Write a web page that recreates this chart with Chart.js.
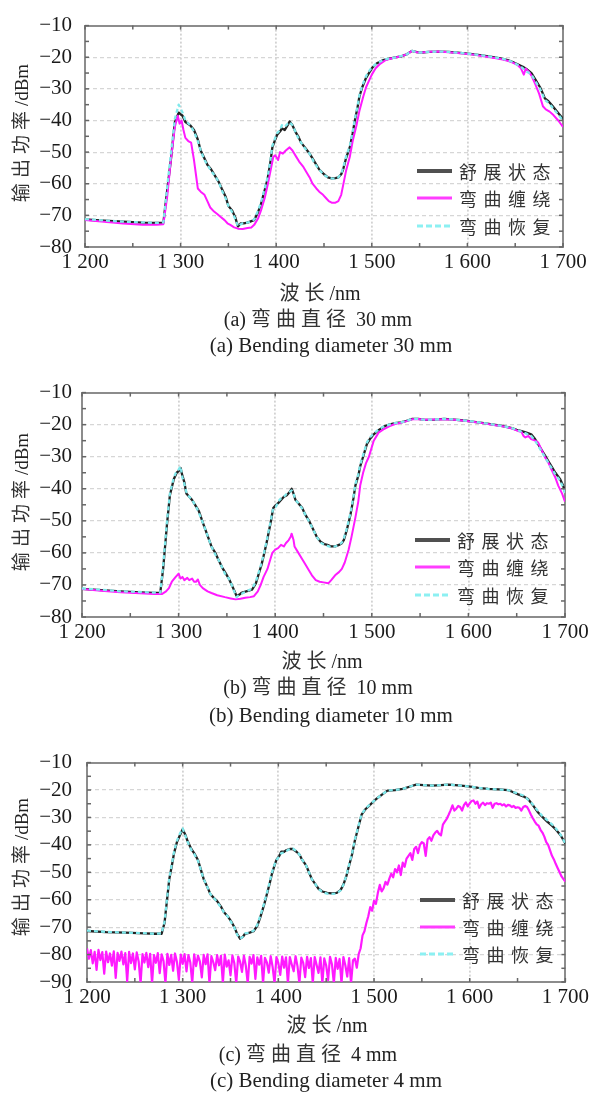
<!DOCTYPE html>
<html><head><meta charset="utf-8">
<script src="https://cdn.jsdelivr.net/npm/chart.js@4"></script>
<style>
html,body{margin:0;padding:0;background:#fff;}
body{width:592px;height:1093px;position:relative;overflow:hidden;font-family:"Liberation Serif","Noto Sans CJK SC",serif;color:#222;}
canvas.p{position:absolute;left:0;}
.t{position:absolute;white-space:nowrap;transform:translate(-50%,-50%);line-height:1;}
.l{position:absolute;white-space:nowrap;transform:translate(0,-50%);line-height:1;}
.yl{position:absolute;white-space:nowrap;transform:translate(-50%,-50%) rotate(-90deg);line-height:1;font-size:19px;}
.cj{letter-spacing:5px;font-family:"Noto Sans CJK SC",sans-serif;color:#333;}
.legt{font-size:18px;letter-spacing:6.5px;font-family:"Noto Sans CJK SC",sans-serif;color:#333;}
.sw{position:absolute;width:35px;transform:translate(0,-50%);}
</style>
</head><body>
<canvas class="p" id="c1" width="592" height="280" style="top:0px"></canvas>
<canvas class="p" id="c2" width="592" height="280" style="top:370px"></canvas>
<canvas class="p" id="c3" width="592" height="280" style="top:735px"></canvas>
<div id="txt"></div>
<script>
// ---------- labels ----------
const seriesNames = ['舒展状态', '弯曲缠绕', '弯曲恢复'];
const xTickValues = [1200, 1300, 1400, 1500, 1600, 1700];
const xTickLabels = ['1 200', '1 300', '1 400', '1 500', '1 600', '1 700'];
const yTickValuesAB = [-80, -70, -60, -50, -40, -30, -20, -10];
const yTickLabelsAB = ['−80', '−70', '−60', '−50', '−40', '−30', '−20', '−10'];
const yTickValuesC = [-90, -80, -70, -60, -50, -40, -30, -20, -10];
const yTickLabelsC = ['−90', '−80', '−70', '−60', '−50', '−40', '−30', '−20', '−10'];
const yTitle = ['输出功率', '/dBm'];
const xTitle = ['波长', '/nm'];
const captionsCN = [['(a) ', '弯曲直径', ' 30 mm'], ['(b) ', '弯曲直径', ' 10 mm'], ['(c) ', '弯曲直径', ' 4 mm']];
const captionsEN = ['(a) Bending diameter 30 mm', '(b) Bending diameter 10 mm', '(c) Bending diameter 4 mm'];

// ---------- panel (a) 30 mm ----------
const wlA = [1200,1220,1240,1260,1275,1282,1286,1290,1294,1298,
 1302,1305,1310,1314,1318,1321,1325,1328,1332,1336,
 1340,1343,1347,1350,1354,1357,1360,1363,1366,1370,
 1374,1377,1381,1384,1388,1391,1394,1396,1399,1401,
 1404,1406,1409,1412,1414,1417,1420,1423,1426,1430,
 1435,1440,1445,1450,1454,1458,1462,1465,1468,1470,
 1473,1477,1480,1482,1485,1487,1490,1494,1497,1500,
 1505,1511,1516,1521,1526,1531,1537,1542,1547,1552,
 1560,1570,1580,1587,1595,1605,1615,1622,1630,1637,
 1643,1648,1653,1658,1662,1667,1671,1676,1679,1681,
 1685,1688,1692,1696,1700];
const aRelaxed = [-71.3,-71.7,-72.0,-72.3,-72.4,-72.3,-62,-52,-40.5,-37.5,
 -38.5,-40.5,-41.5,-43,-46,-49.5,-52,-54,-55.5,-57.5,
 -59.5,-61.5,-64,-67,-68.5,-70.5,-73.5,-72.5,-72.5,-72.3,
 -71.8,-71.5,-69,-66.5,-62,-58.5,-53,-48.5,-46,-44.5,
 -43.5,-42.5,-43,-41.5,-40.3,-41.5,-43.5,-45,-47,-48.5,
 -50.5,-53,-55.5,-57,-58,-58.3,-58.2,-58,-57,-55.5,
 -52,-48.5,-44,-40.5,-36,-32.5,-29.5,-26.5,-25,-23.5,
 -22,-21,-20.6,-20.3,-20,-19.7,-19,-18,-18.4,-18.5,
 -18.3,-18.2,-18.3,-18.5,-18.7,-19,-19.4,-19.7,-20.1,-20.5,
 -21,-21.6,-22.3,-23,-23.8,-25,-27,-29.5,-31.5,-33,
 -34,-35,-36.5,-38,-39.5];
const aRecovered = [-71.2,-71.6,-72.0,-72.2,-72.4,-72.2,-61,-50,-39.5,-35,
 -37.5,-40,-41.5,-43.5,-46.5,-49.5,-52.5,-54,-56,-57.5,
 -59.5,-62,-64.5,-67,-69,-71,-73.5,-72.8,-72.3,-72.3,
 -71.8,-71.3,-68.5,-66,-61.5,-58,-52.5,-48,-45.5,-44,
 -43,-41.5,-42,-41,-40.5,-41.5,-43.5,-45.5,-47,-48.8,
 -50.5,-53.5,-55.5,-57.2,-58,-58.3,-58.4,-58,-56.8,-55,
 -51.5,-48,-43.5,-40,-35.5,-32,-29,-26,-24.5,-23.2,
 -22,-21,-20.5,-20.3,-20,-19.6,-19,-18,-18.4,-18.5,
 -18.3,-18.2,-18.3,-18.5,-18.7,-19,-19.4,-19.7,-20.1,-20.5,
 -21,-21.6,-22.5,-23.5,-24.5,-25.5,-27.5,-30,-32,-33.5,
 -34.5,-35.5,-37,-38.5,-40];
const wlAbent = [1200,1220,1240,1260,1275,1282,1286,1290,1294,1297,
 1299,1301,1303,1305,1308,1311,1314,1316,1318,1321,
 1325,1328,1331,1335,1338,1342,1346,1349,1352,1356,
 1360,1365,1370,1374,1377,1381,1384,1388,1391,1394,
 1397,1399,1402,1404,1407,1410,1414,1417,1421,1424,
 1428,1432,1435,1438,1442,1445,1449,1452,1455,1458,
 1462,1465,1468,1470,1473,1477,1480,1484,1487,1491,
 1494,1497,1500,1504,1509,1514,1520,1526,1531,1537,
 1542,1547,1552,1560,1570,1580,1587,1595,1605,1615,
 1622,1630,1637,1643,1648,1653,1656,1659,1661,1664,
 1667,1671,1675,1679,1682,1686,1690,1695,1700];
const aBent = [-71.5,-72,-72.6,-73,-73,-72.8,-64,-52,-42,-38.5,
 -41,-40,-43,-45.5,-46.5,-47,-52.5,-57,-61.5,-62.5,
 -63.5,-65.5,-67.5,-68.8,-69.5,-70.5,-71.5,-72.5,-73,-73.8,
 -74.2,-74.3,-74,-73.8,-73,-71,-68.5,-64.5,-60.5,-56,
 -51.5,-51,-52.5,-50,-50.5,-49.5,-48.5,-49.5,-51.5,-53,
 -54.5,-56.5,-58,-60,-61.5,-62.5,-63.5,-64.5,-65.5,-66,
 -66,-65.5,-63.5,-60.5,-56,-51.5,-46.5,-41.5,-37,-32.5,
 -29.5,-27.5,-25.5,-23.5,-22,-21,-20.4,-20,-19.7,-19,
 -18,-18.4,-18.5,-18.3,-18.2,-18.4,-18.6,-18.8,-19.1,-19.6,
 -19.9,-20.3,-20.7,-21.2,-21.8,-22.6,-23.5,-25.5,-23.6,-24.5,
 -25.8,-28.5,-31.5,-35.5,-36.5,-37.2,-38.3,-40,-42];

// ---------- panel (b) 10 mm ----------
const wlB = [1200,1220,1240,1260,1275,1281,1284,1286,1288,1291,
 1295,1298,1300,1302,1304,1306,1308,1311,1314,1318,
 1321,1325,1328,1331,1334,1338,1341,1345,1348,1352,
 1355,1358,1360,1363,1365,1370,1376,1380,1383,1386,
 1388,1391,1395,1398,1401,1403,1406,1409,1412,1415,
 1417,1419,1421,1424,1428,1431,1435,1439,1443,1447,
 1451,1454,1458,1462,1466,1469,1471,1474,1478,1481,
 1483,1486,1488,1491,1495,1498,1502,1507,1513,1518,
 1524,1530,1536,1542,1548,1555,1565,1575,1585,1596,
 1606,1616,1626,1637,1645,1650,1655,1660,1665,1669,
 1673,1676,1680,1683,1686,1690,1695,1698,1700];
const bRelaxed = [-71.2,-71.6,-72,-72.3,-72.5,-72.5,-65,-58,-51,-42,
 -37,-35,-34.5,-33.5,-36,-38,-41.5,-42.5,-43.5,-45.5,
 -47,-50.5,-53,-55.5,-58,-60,-62,-64.5,-66,-68,
 -70,-72,-73.5,-73,-72.5,-72,-71.5,-69.5,-66.5,-63.5,
 -61,-57,-51,-46,-45,-44.5,-43.5,-42.5,-42,-41,
 -40,-41.5,-43.5,-44.5,-46,-48,-50,-52.5,-55,-56.5,
 -57.3,-57.5,-58,-58,-57.5,-57,-56,-53,-48,-43,
 -39,-36,-33,-30,-26,-24.5,-23,-21.7,-20.5,-20,
 -19.5,-19.3,-18.8,-18.2,-18.2,-18.5,-18.4,-18.2,-18.4,-18.7,
 -19.1,-19.5,-20,-20.5,-21.1,-21.6,-22,-22.5,-23,-24.5,
 -26.5,-28,-30,-31.5,-33,-35,-37,-39,-41];
const bRecovered = [-71.1,-71.5,-72,-72.2,-72.4,-72.4,-64,-57,-50,-41.5,
 -36.5,-34.5,-34,-33,-36.5,-38.5,-41,-42.5,-43.5,-45.5,
 -47.5,-50.5,-53,-55.5,-58,-60.5,-62,-64.5,-66.5,-68,
 -70,-72.3,-73.8,-73,-72.8,-72,-71.2,-69,-66,-63,
 -60.5,-56.5,-50.5,-46,-45.5,-44,-43,-42.5,-41.5,-41,
 -40.5,-41.5,-43.5,-44.5,-46.2,-48,-50.2,-52.5,-55,-56.8,
 -57.5,-57.8,-58.2,-58,-57.5,-56.8,-55.5,-52.5,-47.5,-42.5,
 -38.5,-35.5,-32.5,-29.5,-25.5,-24,-22.8,-21.5,-20.5,-20,
 -19.5,-19.3,-18.8,-18.2,-18.2,-18.5,-18.4,-18.2,-18.4,-18.7,
 -19.1,-19.5,-20,-20.5,-21.1,-21.6,-22.2,-22.8,-23.5,-25,
 -27,-28.5,-30.5,-32,-33.5,-35.5,-37.5,-39.5,-41.5];
const wlBbent = [1200,1220,1240,1260,1275,1283,1287,1290,1293,1297,
 1300,1302,1304,1306,1309,1311,1314,1316,1318,1320,
 1322,1325,1330,1334,1340,1348,1354,1359,1364,1369,
 1374,1378,1382,1385,1388,1392,1395,1397,1400,1403,
 1406,1409,1411,1414,1416,1417,1419,1420,1424,1428,
 1431,1435,1438,1442,1446,1450,1455,1458,1462,1466,
 1469,1472,1476,1479,1483,1486,1488,1491,1494,1497,
 1500,1502,1505,1507,1512,1518,1524,1530,1536,1542,
 1548,1555,1565,1575,1585,1596,1606,1616,1626,1637,
 1645,1650,1655,1657,1659,1662,1665,1669,1672,1676,
 1679,1683,1686,1690,1693,1697,1700];
const bBent = [-71.3,-71.8,-72.3,-72.6,-72.8,-72.8,-72,-71,-69,-67.5,
 -66.5,-68,-67.5,-68.5,-67.8,-68.5,-68,-69,-69,-68.3,
 -70,-71,-72,-72.5,-73.2,-73.8,-74.2,-74.5,-74.3,-74,
 -73.8,-73.5,-72,-70,-67.5,-65,-62,-60,-59,-58.5,
 -57.5,-58,-57,-56,-55,-54,-56,-58,-60,-62,
 -63.5,-65.5,-67,-68.5,-69,-69.2,-69.5,-68.5,-67,-66,
 -65,-63,-59,-55,-49,-44,-39,-35,-32,-30,
 -27,-25,-23.5,-22.5,-21.5,-20.5,-19.8,-19.4,-18.9,-18.3,
 -18.2,-18.5,-18.4,-18.3,-18.5,-18.8,-19.2,-19.6,-20.1,-20.6,
 -21.2,-21.8,-22.3,-23.5,-24,-23.5,-24.5,-25,-25.5,-28,
 -30,-32,-34,-36.5,-39,-41.5,-44];

// ---------- panel (c) 4 mm ----------
const wlC = [1200,1220,1240,1260,1270,1278,1281,1284,1286,1289,
 1291,1294,1297,1300,1303,1305,1309,1312,1316,1319,
 1322,1326,1329,1333,1336,1340,1343,1347,1350,1354,
 1357,1360,1363,1365,1370,1374,1378,1381,1385,1388,
 1391,1393,1396,1398,1401,1403,1406,1408,1412,1415,
 1419,1422,1425,1429,1432,1435,1439,1442,1446,1451,
 1456,1461,1465,1468,1471,1473,1477,1480,1484,1487,
 1491,1495,1500,1504,1509,1514,1522,1530,1537,1544,
 1552,1561,1570,1578,1588,1599,1609,1619,1630,1640,
 1645,1650,1656,1661,1666,1671,1676,1681,1686,1690,
 1695,1700];
const cRelaxed = [-71.4,-71.8,-72,-72.3,-72.4,-72.4,-68.5,-59,-52.5,-47,
 -43,-39,-36.6,-34.3,-36.5,-38.5,-41.5,-43,-45.5,-49,
 -52.5,-55.5,-58,-59.5,-60.5,-62.5,-64.5,-66,-67.5,-70,
 -72.5,-74.2,-73.5,-72.5,-72,-71.5,-69.5,-66.5,-62,-58,
 -54,-51,-47.5,-45.5,-44,-42.5,-42.5,-42,-41.5,-41.5,
 -42.5,-43.5,-45.5,-47.5,-50,-52.5,-54.5,-56,-57,-57.5,
 -57.7,-57.5,-56.5,-54.5,-51.5,-48.8,-43.5,-38.4,-33,-29,
 -27,-25.7,-24,-22.8,-21.5,-20.2,-20,-19.6,-18.8,-18,
 -18.2,-18.4,-18.2,-18,-18.3,-18.7,-19.2,-19.6,-19.8,-20,
 -20.7,-21.5,-22.3,-23.3,-25.5,-28,-29.8,-31.5,-33,-34.4,
 -36.5,-39.5];
const cRecovered = [-71.3,-71.7,-72,-72.2,-72.4,-72.3,-68,-58.5,-52,-46.5,
 -42.5,-38.5,-36,-34,-36.8,-38.8,-41.8,-43.3,-45.8,-49.2,
 -52.5,-55.5,-58,-59.5,-60.8,-62.8,-64.5,-66,-67.8,-70.2,
 -72.8,-74.2,-73.5,-72.3,-72,-71.3,-69.2,-66,-61.5,-57.5,
 -53.5,-50.5,-47.2,-45.5,-44.2,-43,-42.8,-42.3,-41.5,-41.3,
 -42.3,-43.5,-45.5,-47.5,-50,-52.5,-54.5,-56,-57.2,-57.8,
 -57.9,-57.7,-56.6,-54.5,-51.3,-48.5,-43.2,-38,-32.8,-28.8,
 -26.8,-25.5,-24,-22.8,-21.5,-20.2,-20,-19.6,-18.8,-18,
 -18.2,-18.4,-18.2,-18,-18.3,-18.7,-19.2,-19.6,-19.8,-20,
 -20.7,-21.2,-22,-23.5,-25.3,-27.5,-29.5,-31,-32.5,-34,
 -36.3,-39.5];
const wlCbent = [1200,1202,1204,1206,1208,1210,1212,1214,1216,1218,1220,1222,1224,1226,1228,1230,1232,1234,1236,1238,1240,1242,1244,1246,1248,
 1250,1252,1254,1256,1258,1260,1262,1264,1266,1268,1270,1272,1274,1276,1278,1280,1282,1284,1286,1288,1290,1292,1294,1296,1298,
 1300,1302,1304,1306,1308,1310,1312,1314,1316,1318,1320,1322,1324,1326,1328,1330,1332,1334,1336,1338,1340,1342,1344,1346,1348,
 1350,1352,1354,1356,1358,1360,1362,1364,1366,1368,1370,1372,1374,1376,1378,1380,1382,1384,1386,1388,1390,1392,1394,1396,1398,
 1400,1402,1404,1406,1408,1410,1412,1414,1416,1418,1420,1422,1424,1426,1428,1430,1432,1434,1436,1438,1440,1442,1444,1446,1448,
 1450,1452,1454,1456,1458,1460,1462,1464,1466,1468,1470,1472,1474,1476,1478,1480,1482,1484,1486,1488,1490,1492,1494,1496,1498,
 1500,1502,1504,1506,1508,1510,1512,1514,1516,1518,1520,1522,1524,1526,1528,1530,1532,1534,1536,1538,1540,1542,1544,1546,1548,
 1550,1552,1554,1556,1558,1560,1562,1564,1566,1568,1570,1572,1574,1576,1578,1580,1582,1584,1586,1588,1590,1592,1594,1596,1598,
 1600,1602,1604,1606,1608,1610,1612,1614,1616,1618,1620,1622,1624,1626,1628,1630,1632,1634,1636,1638,1640,1642,1644,1646,1648,
 1650,1652,1654,1656,1658,1660,1662,1664,1666,1668,1670,1672,1674,1676,1678,1680,1682,1684,1686,1688,1690,1692,1694,1696,1698,
 1700];
const cBent = [
 -77.8,-81.5,-78.4,-83.2,-79.0,-85.6,-78.3,-82.0,-79.1,-87.0,
 -78.9,-82.8,-79.6,-84.0,-78.8,-88.5,-79.4,-82.3,-78.9,-83.6,
 -79.5,-89.8,-79.0,-83.1,-79.6,-85.4,-79.2,-82.5,-90.5,-79.8,
 -82.9,-79.4,-84.6,-79.7,-90.5,-80.2,-83.0,-79.5,-86.8,-79.9,
 -82.4,-90.5,-79.7,-83.8,-80.1,-85.9,-79.6,-82.7,-89.2,-80.0,
 -83.4,-79.8,-86.1,-80.2,-82.9,-90.5,-79.9,-84.2,-80.4,-82.6,
 -88.3,-80.1,-83.5,-79.9,-90.5,-80.6,-82.8,-85.7,-80.2,-83.9,
 -80.5,-90.5,-80.0,-84.4,-82.1,-87.6,-80.3,-83.2,-90.5,-80.7,
 -82.6,-86.3,-80.4,-84.1,-90.5,-80.8,-83.3,-80.2,-88.9,-81.0,
 -83.7,-80.5,-90.5,-81.2,-82.9,-86.6,-80.6,-84.5,-90.5,-80.9,
 -83.1,-87.4,-80.7,-84.8,-81.0,-90.5,-80.9,-83.6,-86.1,-80.6,
 -84.2,-90.5,-81.1,-83.0,-88.2,-80.8,-84.9,-81.3,-90.5,-80.9,
 -83.8,-86.7,-81.0,-90.5,-81.4,-84.0,-89.3,-80.8,-83.5,-90.5,
 -81.2,-85.2,-81.6,-90.5,-80.9,-83.9,-88.0,-81.3,-90.5,-82.1,
 -81.5,-84.8,-79.8,
 -77.7,-73,-71.5,-68.5,-66,-62.7,-64,-60.4,-61.5,-57.5,
 -54.6,-57,-55.8,-53.5,-54.5,-52.3,-50.5,-51.8,-48.8,-50,
 -47.5,-51,-46.5,-48,-45,-44,-43,-45.5,-41.5,-40.7,
 -43,-40,-39,-39.5,-44,-38,-37.2,-38.5,-36.5,-35.5,
 -34.9,-36,-36.5,-32.6,-31.5,-30.5,-29,-27.4,-25.6,-27.5,
 -26.8,-25.8,-26.2,-27.5,-25.5,-24.5,-26,-24.8,-24,-23.8,
 -25,-24.2,-26.5,-25.2,-24.6,-25.5,-24.8,-25,-24.6,-26.5,
 -25,-24.8,-25.2,-25,-25.6,-25.2,-26,-25.4,-25.6,-26.2,
 -25.8,-26.5,-26.3,-26.5,-27.5,-26.2,-25.8,-26.2,-27.5,-29,
 -30.3,-31.5,-32.5,-33,-34.5,-35.5,-37,-39,-40,-42,
 -44,-45.3,-47,-48.5,-50,-51.5,-52.5,-53.4];

// ---------- drawing ----------
const BLK = '#222222', MAG = '#ff1aff', CYA = '#7fe9ec';
const FRAME = '#8c8c8c';
Chart.defaults.font.family = "'Liberation Serif', serif";

const innerTicks = {
  id: 'innerTicks',
  afterDraw(chart, args, o) {
    const {ctx, chartArea: a, scales} = chart;
    const x = scales.x, y = scales.y;
    ctx.save();
    ctx.strokeStyle = '#666';
    ctx.lineWidth = 1.5;
    const seg = (x1, y1, x2, y2) => { ctx.beginPath(); ctx.moveTo(x1, y1); ctx.lineTo(x2, y2); ctx.stroke(); };
    for (let v = x.min; v <= x.max + 1e-6; v += o.xStep) {
      const p = x.getPixelForValue(v);
      seg(p, a.top, p, a.top + 4); seg(p, a.bottom, p, a.bottom - 4);
    }
    for (let v = y.min; v <= y.max + 1e-6; v += o.yStep) {
      const p = y.getPixelForValue(v);
      seg(a.left, p, a.left + 4, p); seg(a.right, p, a.right - 4, p);
    }
    ctx.restore();
  }
};

const toXY = (wl, vals) => wl.map((w, i) => ({x: w, y: vals[i]}));
const lbl = (vals, lbls, v) => { const i = vals.indexOf(v); return i >= 0 ? lbls[i] : ''; };

function buildChart(id, L, s, yVals, yLbls) {
  const tickFont = {family: "'Liberation Serif', serif", size: 21};
  return new Chart(document.getElementById(id), {
    type: 'line',
    data: {datasets: [
      {label: seriesNames[2], data: toXY(s.relWl, s.rec), borderColor: CYA, borderWidth: 2.3, borderDash: [4, 3], order: 0},
      {label: seriesNames[1], data: toXY(s.bentWl, s.bent), borderColor: MAG, borderWidth: s.bentW, order: 1},
      {label: seriesNames[0], data: toXY(s.relWl, s.rel), borderColor: BLK, borderWidth: 2.3, order: 2}
    ]},
    options: {
      responsive: false, animation: false,
      layout: {padding: 0, autoPadding: false},
      elements: {point: {radius: 0}, line: {tension: 0, borderJoinStyle: 'round'}},
      plugins: {legend: {display: false}, tooltip: {enabled: false}, innerTicks: {xStep: 50, yStep: 5}},
      scales: {
        x: {type: 'linear', position: 'bottom', min: 1200, max: 1700,
            afterBuildTicks: sc => { sc.ticks = xTickValues.map(v => ({value: v})); },
            ticks: {callback: v => lbl(xTickValues, xTickLabels, v), font: tickFont, color: '#1a1a1a', padding: 3, maxRotation: 0, autoSkip: false},
            grid: {color: '#d2d2d2', lineWidth: 1.8, drawTicks: false},
            border: {display: true, color: FRAME, width: 2, dash: [2, 2]},
            afterFit: sc => { sc.height = 280 - L.bottom; }},
        x2: {type: 'linear', position: 'top', min: 1200, max: 1700,
            ticks: {display: false}, grid: {drawOnChartArea: false, drawTicks: false},
            border: {display: true, color: FRAME, width: 2},
            afterFit: sc => { sc.height = L.top; }},
        y: {type: 'linear', position: 'left', min: yVals[0], max: yVals[yVals.length - 1],
            afterBuildTicks: sc => { sc.ticks = yVals.map(v => ({value: v})); },
            ticks: {callback: v => lbl(yVals, yLbls, v), font: tickFont, color: '#1a1a1a', padding: L.left - 72, autoSkip: false},
            grid: {color: '#d6d6d6', lineWidth: 1.2, drawTicks: false},
            border: {display: true, color: FRAME, width: 2, dash: [4, 3]},
            afterFit: sc => { sc.width = L.left; }},
        y2: {type: 'linear', position: 'right', min: yVals[0], max: yVals[yVals.length - 1],
            ticks: {display: false}, grid: {drawOnChartArea: false, drawTicks: false},
            border: {display: true, color: FRAME, width: 2},
            afterFit: sc => { sc.width = 592 - L.right; }}
      }
    },
    plugins: [innerTicks]
  });
}

buildChart('c1', {left: 85, right: 563, top: 15, bottom: 247},
  {relWl: wlA, rel: aRelaxed, rec: aRecovered, bentWl: wlAbent, bent: aBent, bentW: 2}, yTickValuesAB, yTickLabelsAB);
buildChart('c2', {left: 82, right: 565, top: 15, bottom: 247},
  {relWl: wlB, rel: bRelaxed, rec: bRecovered, bentWl: wlBbent, bent: bBent, bentW: 2}, yTickValuesAB, yTickLabelsAB);
buildChart('c3', {left: 87, right: 569, top: 15, bottom: 247},
  {relWl: wlC, rel: cRelaxed, rec: cRecovered, bentWl: wlCbent, bent: cBent, bentW: 2.2}, yTickValuesC, yTickLabelsC);

// ---------- text & legends (HTML) ----------
const T = document.getElementById('txt');
const panels = [
  {yt: 133, xt: [320, 292], cn: [318, 318], en: [331, 345], leg: {x: 417, ys: [171, 198, 226]}},
  {yt: 502, xt: [322, 660], cn: [318, 686], en: [331, 715], leg: {x: 415, ys: [540, 567, 595]}},
  {yt: 867, xt: [327, 1024], cn: [308, 1053], en: [326, 1080], leg: {x: 420, ys: [900, 927, 954]}}
];
const swatches = [
  'height:4px;background:#505050;',
  'height:3px;background:#ff3dff;',
  'height:3px;background:repeating-linear-gradient(90deg,#8cf0f2 0 6px,transparent 6px 9px);'
];
panels.forEach((p, i) => {
  let h = '';
  h += `<div class="yl" style="left:20px;top:${p.yt}px"><span class="cj">${yTitle[0]}</span>${yTitle[1]}</div>`;
  h += `<div class="t" style="left:${p.xt[0]}px;top:${p.xt[1]}px;font-size:20px"><span class="cj">${xTitle[0]}</span>${xTitle[1]}</div>`;
  h += `<div class="t" style="left:${p.cn[0]}px;top:${p.cn[1]}px;font-size:20px">${captionsCN[i][0]}<span class="cj">${captionsCN[i][1]}</span>${captionsCN[i][2]}</div>`;
  h += `<div class="t" style="left:${p.en[0]}px;top:${p.en[1]}px;font-size:21px">${captionsEN[i]}</div>`;
  seriesNames.forEach((n, k) => {
    h += `<div class="sw" style="left:${p.leg.x}px;top:${p.leg.ys[k]}px;${swatches[k]}"></div>`;
    h += `<div class="l legt" style="left:${p.leg.x + 42}px;top:${p.leg.ys[k]}px">${n}</div>`;
  });
  T.insertAdjacentHTML('beforeend', h);
});
</script>
</body></html>
